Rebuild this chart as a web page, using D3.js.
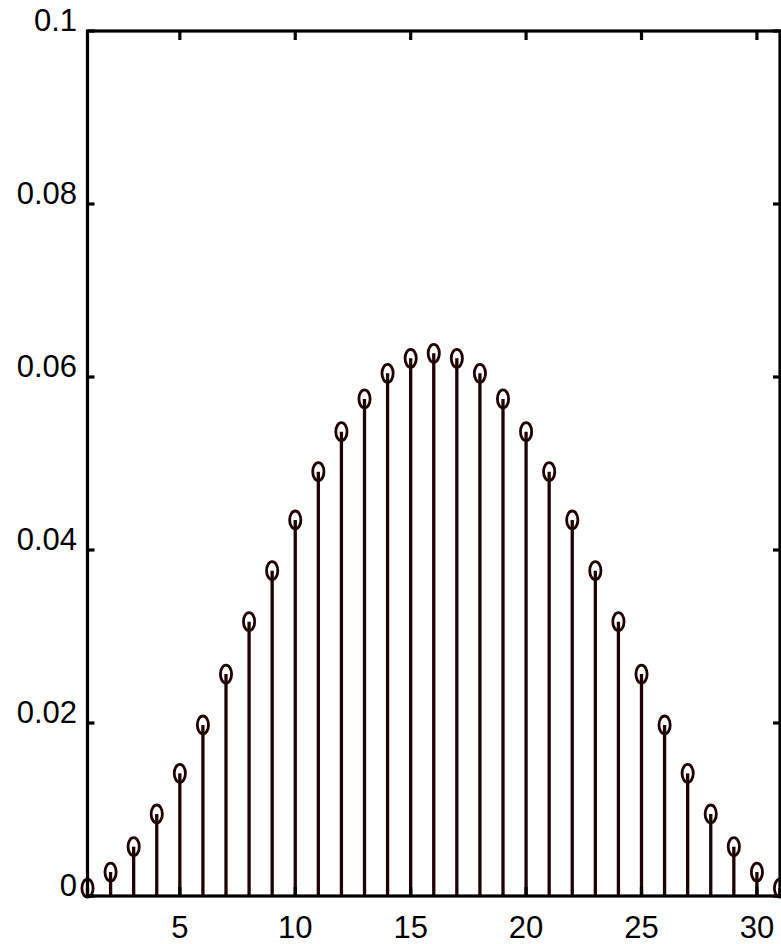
<!DOCTYPE html>
<html><head><meta charset="utf-8">
<script src="https://cdn.jsdelivr.net/npm/d3@7"></script>
<style>html,body{margin:0;padding:0;background:#fff;}svg{display:block;}</style>
</head><body>
<svg id="c" width="781" height="944"></svg>
<script>
const xs = d3.range(1, 32);
const values = [0.0009, 0.00277, 0.0057, 0.00948, 0.01418, 0.01977, 0.02566, 0.03171, 0.03761, 0.04347,
  0.04905, 0.05368, 0.05746, 0.06043, 0.06216, 0.06274, 0.06216, 0.06043, 0.05746, 0.05368,
  0.04905, 0.04347, 0.03761, 0.03171, 0.02566, 0.01977, 0.01418, 0.00948, 0.0057, 0.00277, 0.0009];
const xTicks = [5, 10, 15, 20, 25, 30];
const yTicks = [0, 0.02, 0.04, 0.06, 0.08, 0.1];
const yTickLabels = ["0", "0.02", "0.04", "0.06", "0.08", "0.1"];

const svg = d3.select("#c");
const x = d3.scaleLinear().domain([1, 31]).range([87.5, 780]);
const y = d3.scaleLinear().domain([0, 0.1]).range([896, 31]);
const stemColor = "#1e0202";
const font = "'Liberation Sans', Arial, sans-serif";

// stems
svg.append("g").selectAll("line").data(xs).join("line")
  .attr("x1", d => x(d)).attr("x2", d => x(d))
  .attr("y1", y(0)).attr("y2", (d, i) => y(values[i]))
  .attr("stroke", stemColor).attr("stroke-width", 3.3);

// markers
svg.append("g").selectAll("ellipse").data(xs).join("ellipse")
  .attr("cx", d => x(d)).attr("cy", (d, i) => y(values[i]))
  .attr("rx", 5.6).attr("ry", 9)
  .attr("fill", "none").attr("stroke", stemColor).attr("stroke-width", 2.8);

// frame
const fr = svg.append("g").attr("stroke", "#000").attr("stroke-width", 3.2).attr("fill", "none");
fr.append("rect").attr("x", x(1)).attr("y", y(0.1))
  .attr("width", x(31) - x(1)).attr("height", y(0) - y(0.1));

// x ticks (inward, bottom & top)
fr.selectAll(".xt").data(xTicks).join("g").each(function (d) {
  const g = d3.select(this);
  g.append("line").attr("x1", x(d)).attr("x2", x(d)).attr("y1", y(0)).attr("y2", y(0) - 9);
  g.append("line").attr("x1", x(d)).attr("x2", x(d)).attr("y1", y(0.1)).attr("y2", y(0.1) + 9);
});
// y ticks (inward, left & right)
fr.selectAll(".yt").data(yTicks).join("g").each(function (d) {
  const g = d3.select(this);
  g.append("line").attr("x1", x(1)).attr("x2", x(1) + 7).attr("y1", y(d)).attr("y2", y(d));
  g.append("line").attr("x1", x(31)).attr("x2", x(31) - 7).attr("y1", y(d)).attr("y2", y(d));
});

// labels
svg.append("g").selectAll("text").data(yTicks).join("text")
  .attr("x", 77).attr("y", d => y(d))
  .attr("text-anchor", "end").attr("font-family", font).attr("font-size", 31)
  .attr("fill", "#000").text((d, i) => yTickLabels[i]);
svg.append("g").selectAll("text").data(xTicks).join("text")
  .attr("x", d => x(d)).attr("y", 938)
  .attr("text-anchor", "middle").attr("font-family", font).attr("font-size", 31)
  .attr("fill", "#000").text(d => d);
</script>
</body></html>
